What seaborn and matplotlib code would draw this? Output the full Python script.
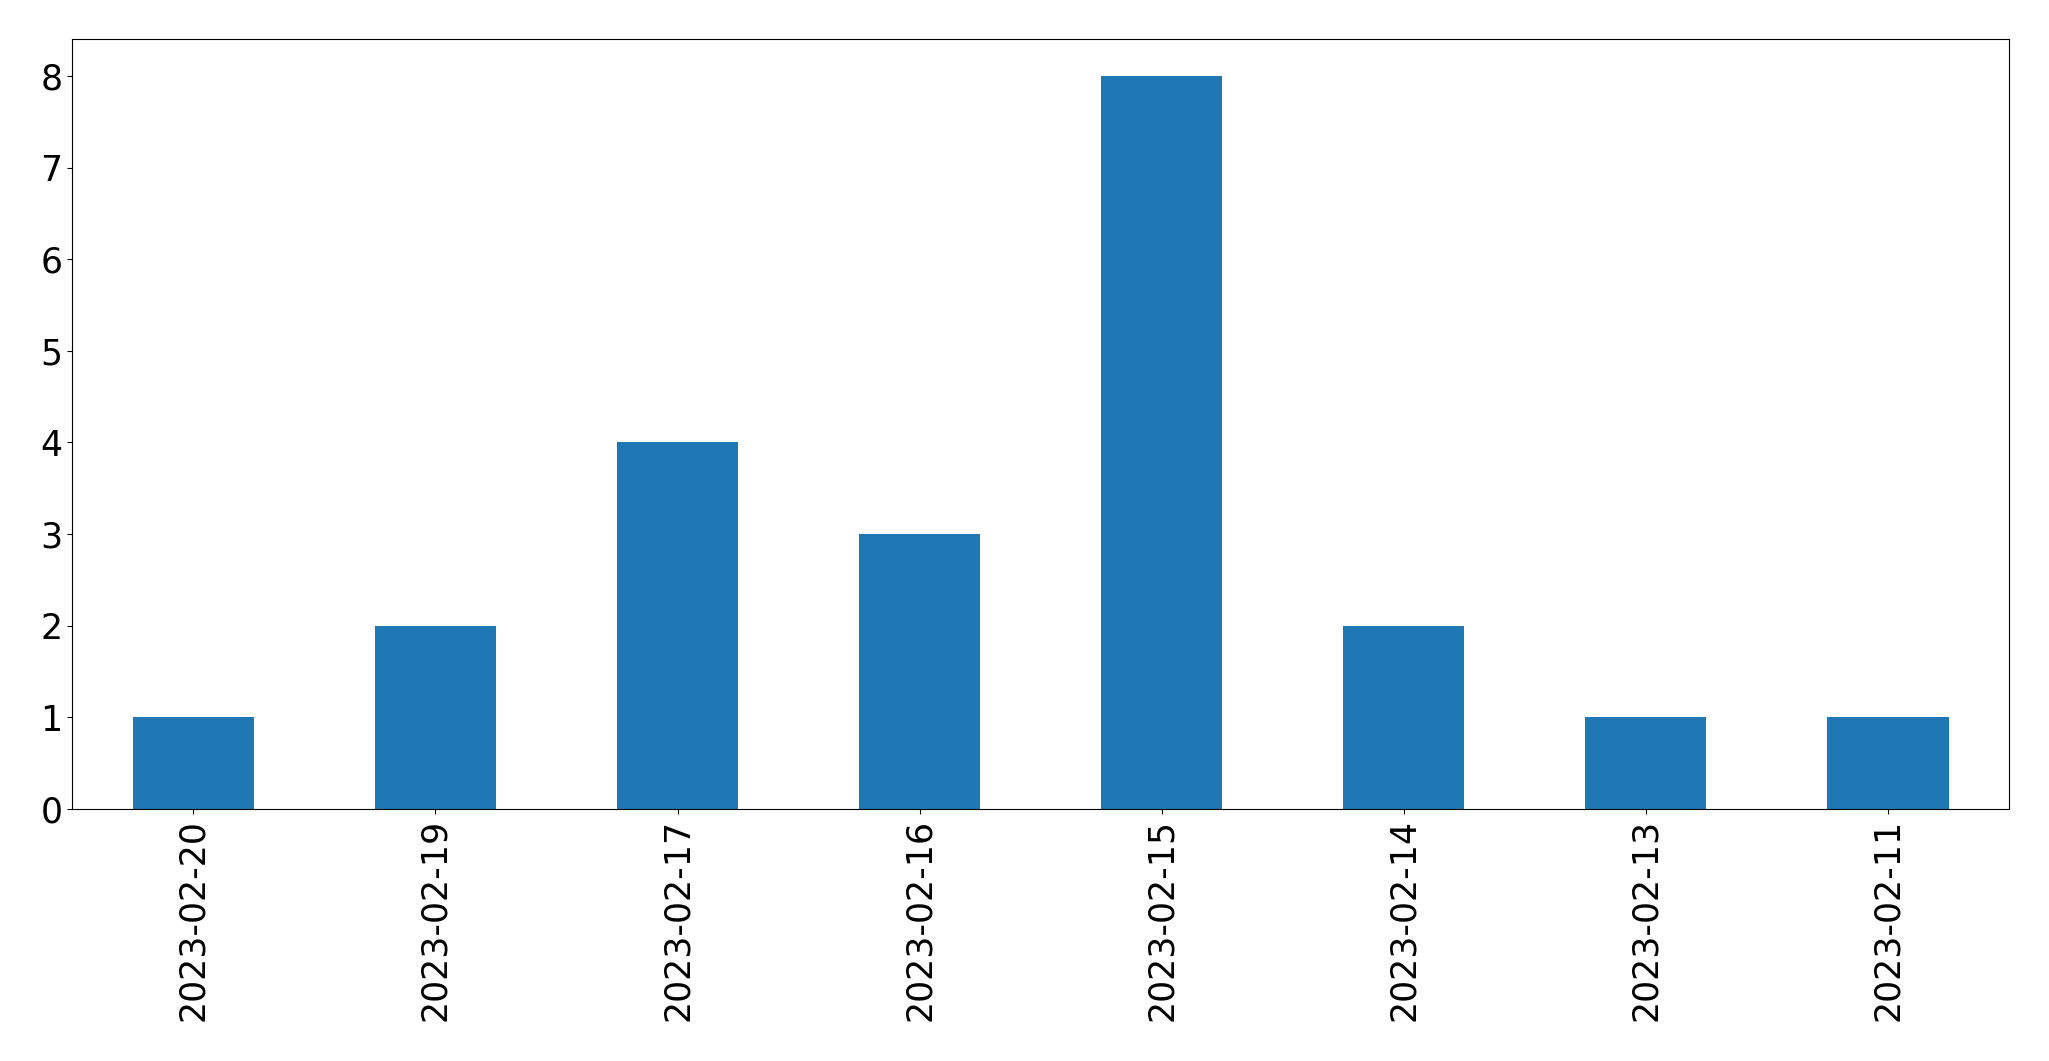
import matplotlib
matplotlib.use("Agg")
import matplotlib.pyplot as plt
import seaborn as sns
import pandas as pd

dates = ["2023-02-20", "2023-02-19", "2023-02-17", "2023-02-16",
         "2023-02-15", "2023-02-14", "2023-02-13", "2023-02-11"]
counts = [1, 2, 4, 3, 8, 2, 1, 1]

df = pd.DataFrame({"date": dates, "count": counts})

fig, ax = plt.subplots(figsize=(20.49, 10.61), dpi=100)
fig.subplots_adjust(left=0.0353, right=0.9805, top=0.963, bottom=0.2375)

sns.barplot(data=df, x="date", y="count", order=dates, color="#1f77b4",
            saturation=1, width=0.5, ax=ax)

ax.set_xlim(-0.5, len(dates) - 0.5)
ax.set_ylim(0, 8.4)
ax.set_xlabel("")
ax.set_ylabel("")
ax.tick_params(axis="both", labelsize=25)
ax.tick_params(axis="x", labelrotation=90)
for s in ax.spines.values():
    s.set_visible(True)
    s.set_color("black")
    s.set_linewidth(0.8)

fig.savefig("out.png", dpi=100)
